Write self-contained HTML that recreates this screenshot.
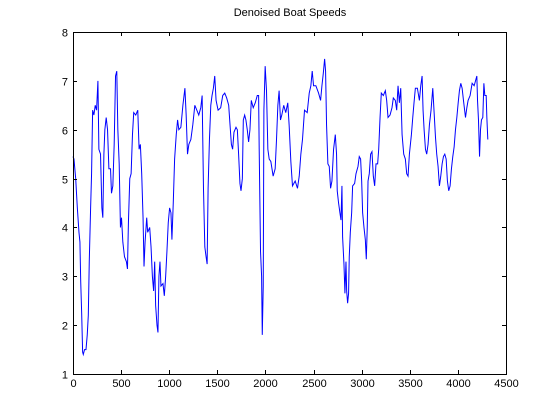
<!DOCTYPE html>
<html><head><meta charset="utf-8"><style>
html,body{margin:0;padding:0;background:#fff;}
svg{display:block;font-family:"Liberation Sans",Arial,sans-serif;}
</style></head><body>
<svg id="chart" width="560" height="420" viewBox="0 0 560 420">
<rect x="0" y="0" width="560" height="420" fill="#fff"/>
<text x="290" y="16" text-anchor="middle" font-size="11" fill="#000">Denoised Boat Speeds</text>
<g id="axes"></g>
</svg>
<script>
const xTicks=[0,500,1000,1500,2000,2500,3000,3500,4000,4500];
const yTicks=[1,2,3,4,5,6,7,8];
const sampleX=[0,10,28,45,62,72,80,90,100,107,120,135,148,159,169,183,193,204,217,231,245,259,269,286,300,310,321,331,345,359,373,390,400,414,428,442,455,466,480,493,504,518,535,555,566,576,590,604,618,631,652,673,687,700,714,728,738,749,766,776,797,811,825,838,849,859,873,883,893,904,914,935,949,963,976,990,1004,1018,1028,1042,1056,1073,1087,1100,1121,1142,1163,1176,1190,1204,1225,1245,1266,1287,1307,1328,1342,1356,1370,1383,1394,1404,1418,1432,1445,1459,1473,1487,1508,1535,1556,1577,1597,1618,1632,1646,1659,1673,1694,1708,1721,1735,1746,1760,1770,1784,1797,1811,1825,1839,1853,1873,1894,1915,1929,1935,1949,1960,1967,1977,1984,1997,2011,2025,2039,2056,2080,2101,2115,2129,2142,2156,2170,2190,2211,2232,2246,2264,2281,2309,2333,2351,2368,2385,2406,2434,2455,2472,2486,2500,2524,2552,2573,2587,2601,2615,2625,2635,2649,2663,2677,2691,2708,2726,2739,2746,2760,2774,2785,2795,2802,2816,2826,2837,2844,2854,2864,2871,2882,2896,2906,2927,2941,2962,2975,2989,3000,3010,3024,3038,3048,3058,3066,3079,3093,3107,3121,3135,3149,3166,3177,3191,3204,3225,3246,3260,3274,3295,3315,3329,3350,3364,3378,3392,3406,3420,3437,3454,3468,3482,3496,3517,3531,3544,3558,3579,3600,3614,3628,3638,3649,3663,3676,3690,3704,3721,3739,3753,3767,3780,3794,3808,3822,3836,3850,3864,3878,3891,3905,3919,3933,3947,3961,3975,3989,4003,4016,4030,4044,4058,4079,4093,4106,4127,4148,4169,4183,4197,4204,4214,4225,4235,4245,4259,4270,4280,4294,4301,4311];
const speedValues=[5.45,5.4,5.0,4.4,3.9,3.7,2.9,2.25,1.45,1.4,1.5,1.5,1.8,2.2,3.3,4.4,5.1,6.4,6.3,6.5,6.4,7.0,5.6,5.5,4.4,4.2,5.5,6.0,6.25,6.0,5.2,5.2,4.7,4.85,5.7,7.1,7.2,6.0,5.3,4.0,4.2,3.7,3.4,3.3,3.15,4.1,5.0,5.1,5.9,6.35,6.3,6.4,5.6,5.7,5.1,4.2,3.2,3.7,4.2,3.9,4.0,3.6,3.0,2.7,3.3,2.4,2.0,1.85,3.0,3.3,2.8,2.85,2.6,3.0,3.5,4.1,4.4,4.3,3.75,4.5,5.4,5.9,6.2,6.0,6.05,6.5,6.85,6.3,5.5,5.7,5.8,6.1,6.5,6.4,6.3,6.45,6.7,4.8,3.6,3.4,3.25,4.8,5.8,6.5,6.7,6.85,7.1,6.6,6.4,6.45,6.7,6.75,6.65,6.5,6.1,5.7,5.6,5.95,6.05,6.0,5.5,4.9,4.75,5.0,6.2,6.3,6.2,6.0,5.75,6.0,6.6,6.45,6.55,6.7,6.7,5.6,3.5,3.0,1.8,2.8,6.4,7.3,6.8,5.6,5.4,5.35,5.05,5.2,5.8,6.5,6.8,6.2,6.3,6.5,6.35,6.55,6.1,5.35,4.85,4.95,4.8,5.05,5.5,5.8,6.4,6.35,6.75,6.9,7.2,6.9,6.9,6.75,6.6,6.9,7.15,7.45,7.2,6.1,5.3,5.25,4.8,4.95,5.6,5.9,5.5,4.75,4.5,4.3,4.15,4.85,3.8,3.25,2.65,3.3,2.7,2.45,2.65,3.4,3.9,4.3,4.85,4.9,5.1,5.25,5.45,5.4,4.95,4.3,4.0,3.75,3.35,4.0,4.95,5.1,5.5,5.55,5.05,4.85,5.3,5.3,5.6,6.25,6.75,6.7,6.8,6.6,6.25,6.3,6.45,6.65,6.6,6.4,6.9,6.55,6.85,5.9,5.5,5.4,5.1,5.05,5.5,5.9,6.25,6.55,6.85,6.85,6.6,6.9,7.1,6.4,6.0,5.6,5.5,5.7,6.1,6.4,6.85,6.35,5.85,5.5,5.25,4.85,5.05,5.3,5.45,5.5,5.4,4.95,4.75,4.85,5.2,5.45,5.65,6.0,6.25,6.55,6.8,6.95,6.85,6.6,6.25,6.45,6.6,6.7,6.95,6.9,7.0,7.1,6.6,6.2,5.45,6.0,6.2,6.25,6.95,6.7,6.7,6.25,5.8];

const L=73,R=506,T=32,B=374;
const xMin=0,xMax=4500,yMin=1,yMax=8;
function sx(v){return L+(v-xMin)/(xMax-xMin)*(R-L);}
function sy(v){return B-(v-yMin)/(yMax-yMin)*(B-T);}
const NS="http://www.w3.org/2000/svg";
const g=document.getElementById('axes');
function mk(tag,attrs){const e=document.createElementNS(NS,tag);for(const k in attrs)e.setAttribute(k,attrs[k]);g.appendChild(e);return e;}

// series
let d='';
for(let i=0;i<sampleX.length;i++){d+=(i?'L':'M')+sx(sampleX[i]).toFixed(2)+' '+sy(speedValues[i]).toFixed(2);}
const line=mk('path',{d:d,fill:'none',stroke:'#0000ff','stroke-width':1,'stroke-linejoin':'miter'});



// box
const box=mk('rect',{x:L+0.5,y:T+0.5,width:R-L,height:B-T,fill:'none',stroke:'#000','stroke-width':1});



xTicks.forEach(v=>{
  const x=Math.round(sx(v))+0.5;
  const t1=mk('line',{x1:x,x2:x,y1:B,y2:B-4,stroke:'#000'});
  
  
  const t2=mk('line',{x1:x,x2:x,y1:T,y2:T+4,stroke:'#000'});
  
  
  const lb=mk('text',{x:x,y:B+13,'text-anchor':'middle','font-size':11,fill:'#000'});
  lb.textContent=v;
  
  
});
yTicks.forEach(v=>{
  const y=Math.round(sy(v))+0.5;
  const t1=mk('line',{x1:L,x2:L+4,y1:y,y2:y,stroke:'#000'});
  
  
  const t2=mk('line',{x1:R,x2:R-4,y1:y,y2:y,stroke:'#000'});
  
  
  const lb=mk('text',{x:L-5,y:y+4,'text-anchor':'end','font-size':11,fill:'#000'});
  lb.textContent=v;
  
  
});
</script>
</body></html>
